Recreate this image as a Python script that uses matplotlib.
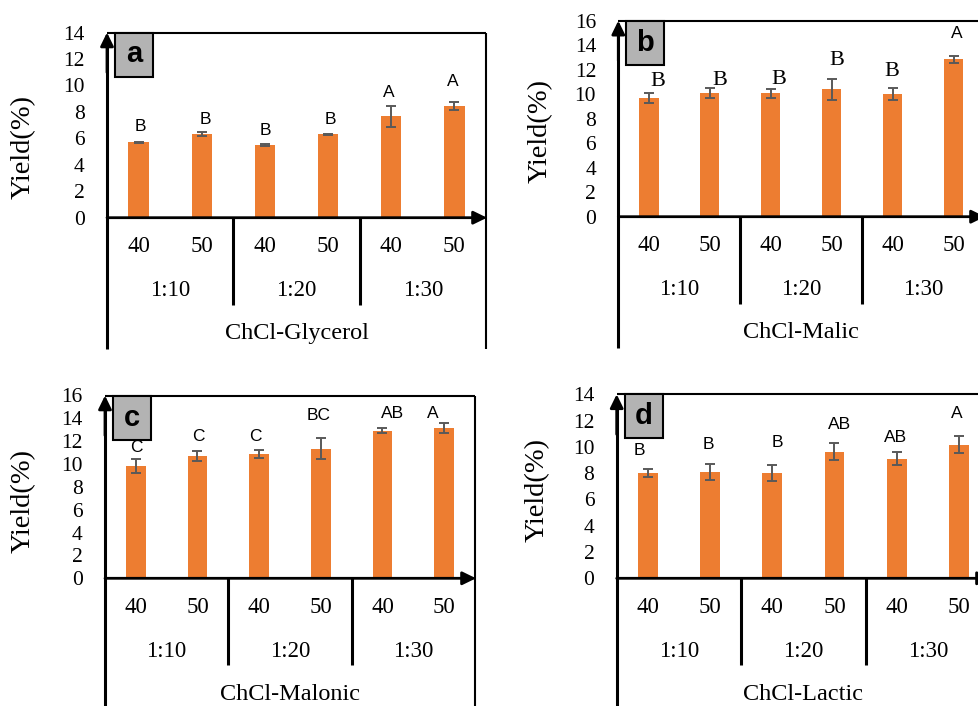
import numpy as np
import matplotlib
matplotlib.use("Agg")
import matplotlib.pyplot as plt
from matplotlib.lines import Line2D
from matplotlib.patches import Rectangle, FancyArrowPatch

# ---- data -------------------------------------------------------------
temps = ["40", "50", "40", "50", "40", "50"]
ratios = ["1:10", "1:20", "1:30"]

glycerol = [5.70, 6.33, 5.49, 6.30, 7.67, 8.43]
glycerol_err = [0.05, 0.15, 0.07, 0.04, 0.78, 0.30]
glycerol_sig = ["B", "B", "B", "B", "A", "A"]

malic = [9.66, 10.07, 10.07, 10.39, 10.00, 12.84]
malic_err = [0.40, 0.42, 0.38, 0.83, 0.49, 0.27]
malic_sig = ["B", "B", "B", "B", "B", "A"]

malonic = [9.80, 10.70, 10.88, 11.35, 12.92, 13.16]
malonic_err = [0.61, 0.41, 0.38, 0.95, 0.20, 0.42]
malonic_sig = ["C", "C", "C", "BC", "AB", "A"]

lactic = [8.02, 8.10, 8.02, 9.64, 9.11, 10.18]
lactic_err = [0.33, 0.59, 0.61, 0.64, 0.47, 0.67]
lactic_sig = ["B", "B", "B", "AB", "AB", "A"]

# ---- style ------------------------------------------------------------
W, H = 979, 706
ORANGE = "#ED7D31"
ERR = "#595959"
SERIF = "Liberation Serif"
SANS = "Liberation Sans"

fig = plt.figure(figsize=(W / 100, H / 100), dpi=100)
fig.patch.set_facecolor("white")


def fxy(x, y):
    return x / W, 1 - y / H


def fig_line(xs, ys, lw, color="black"):
    fx = [x / W for x in xs]
    fy = [1 - y / H for y in ys]
    fig.add_artist(Line2D(fx, fy, transform=fig.transFigure, color=color,
                          lw=lw, solid_capstyle="butt", zorder=20))


def fig_arrow(p0, p1):
    fig.add_artist(FancyArrowPatch(
        fxy(*p0), fxy(*p1), transform=fig.transFigure,
        arrowstyle="-|>,head_length=0.45,head_width=0.22",
        mutation_scale=18, lw=2, color="black", shrinkA=0, shrinkB=0,
        zorder=20))


def panel(letter, title, vals, errs, sig, ymax, box, ylab_pos,
          sig_offsets, sig_fonts=None, bottom=None):
    x0, x1, ytop, y0 = box
    hpx = y0 - ytop
    ybot = y0 + 131 if bottom is None else bottom
    ax = fig.add_axes([x0 / W, 1 - y0 / H, (x1 - x0) / W, hpx / H])
    ax.set_xlim(-0.5, 5.5)
    ax.set_ylim(0, ymax)
    for s in ax.spines.values():
        s.set_visible(False)
    ax.set_xticks([])
    ax.set_yticks(np.arange(0, ymax + 1, 2))
    ax.tick_params(axis="y", length=0, pad=16, labelsize=15.5)
    for t in ax.get_yticklabels():
        t.set_fontfamily(SERIF)
    ax.patch.set_visible(False)

    x = np.arange(len(vals))
    ax.bar(x, vals, width=0.32, color=ORANGE, zorder=2)
    ax.errorbar(x, vals, yerr=errs, fmt="none", ecolor=ERR, elinewidth=1.4,
                capsize=3.6, capthick=1.4, zorder=3)

    # significance letters above each error bar
    for i, (v, e, s) in enumerate(zip(vals, errs, sig)):
        dx, dy = sig_offsets[i]
        fam = SANS if sig_fonts is None else sig_fonts[i]
        size = 12.5 if fam == SANS else 16
        ax.annotate(s, (i, v + e), xytext=(dx * 0.72, dy * 0.72),
                    textcoords="offset points", ha="center", va="center",
                    fontsize=size, family=fam, color="black")

    def yf(off):
        return -off / hpx

    xt = ax.get_xaxis_transform()
    # frame, axes and arrows
    fig_line([x0, x1], [ytop, ytop], 1.5)
    fig_line([x1, x1], [ytop, ybot], 1.5)
    fig_line([x0, x0], [ybot, ytop + 10], 2.2)
    fig_arrow((x0, ytop + 40), (x0, ytop))
    fig_arrow((x0, y0), (x1 + 1, y0))

    # category table below the axis
    for i, t in enumerate(temps):
        ax.text(i, yf(29), t, transform=xt, ha="center", va="center",
                fontsize=16.5, family=SERIF)
    for j, r in enumerate(ratios):
        ax.text(2 * j + 0.5, yf(73), r, transform=xt, ha="center",
                va="center", fontsize=16.5, family=SERIF)
    for sx in (1.5, 3.5):
        ax.plot([sx, sx], [0, yf(87)], transform=xt, color="black", lw=2.2,
                clip_on=False, solid_capstyle="butt")
    ax.text(0.5, yf(116), title, transform=ax.transAxes, ha="center",
            va="center", fontsize=17.5, family=SERIF)

    # panel tag
    bx, by = fxy(x0 + 8, ytop)
    bw, bh = 38 / W, 44 / H
    fig.add_artist(Rectangle((bx, by - bh), bw, bh, transform=fig.transFigure,
                             facecolor="#b3b3b3", edgecolor="black", lw=1.5,
                             zorder=21))
    fig.text(bx + bw / 2, by - bh / 2, letter, ha="center", va="center",
             fontsize=21, fontweight="bold", family=SANS, zorder=22)

    # y label
    lx, ly = fxy(*ylab_pos)
    fig.text(lx, ly, "Yield(%)", rotation=90, ha="center", va="center",
             fontsize=20.5, family=SERIF)
    return ax


panel("a", "ChCl-Glycerol", glycerol, glycerol_err, glycerol_sig, 14,
      (107, 486, 32.5, 217.7), (23, 147),
      [(2, 15), (4, 12), (0, 13.5), (2, 14), (-2, 13), (-2, 21)])

panel("b", "ChCl-Malic", malic, malic_err, malic_sig, 16,
      (618.3, 984, 20.7, 216.7), (540, 131),
      [(9, 11.5), (10, 8), (8, 8.7), (5, 18.5), (-1, 16.5), (3, 23)],
      sig_fonts=[SERIF] * 5 + [SANS])

panel("c", "ChCl-Malonic", malonic, malonic_err, malonic_sig, 16,
      (105, 475, 395.5, 578.3), (23, 501),
      [(1, 12), (1, 15), (-4, 13.3), (-2, 22.5), (10, 14.5), (-11, 9.2)],
      bottom=720)

panel("d", "ChCl-Lactic", lactic, lactic_err, lactic_sig, 14,
      (616.7, 990, 394.3, 578.3), (537, 490),
      [(-8, 18), (-2, 19.5), (5, 22.7), (5, 18.6), (-1, 14.5), (-2, 21.9)],
      bottom=720)

fig.savefig("out.png", dpi=100, facecolor="white")
